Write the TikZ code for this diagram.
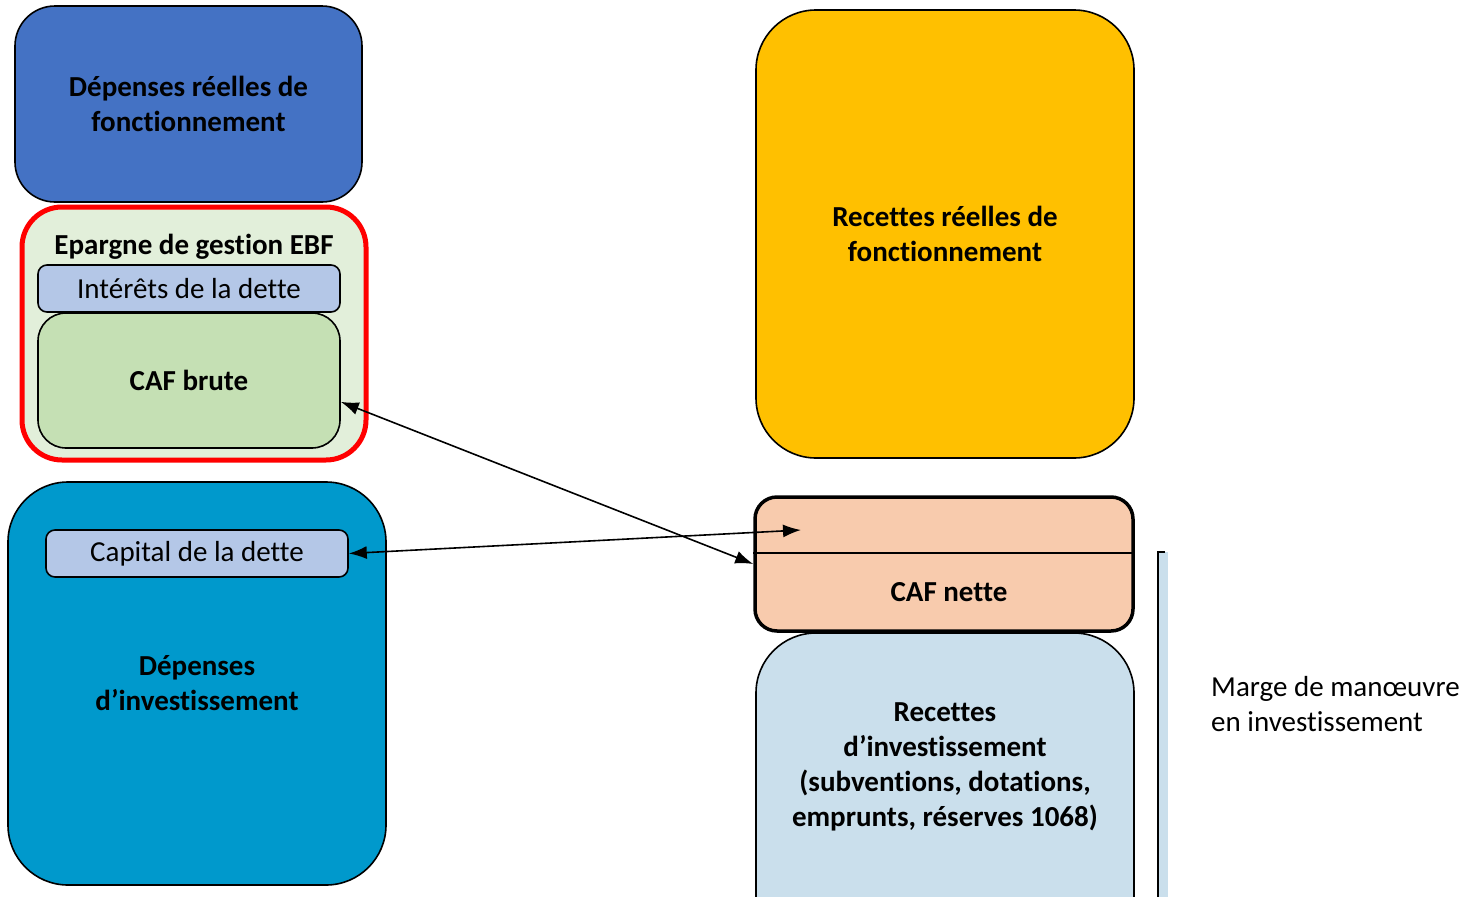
\documentclass[tikz,border=0pt]{standalone}
\usepackage{fontspec}
\setmainfont[Ligatures={NoCommon}]{Carlito}
\usetikzlibrary{positioning,arrows.meta}
\definecolor{bleuDRF}{RGB}{68,114,196}
\definecolor{rougeEBF}{RGB}{255,0,0}
\definecolor{vertEBF}{RGB}{226,239,218}
\definecolor{bleuDette}{RGB}{180,199,231}
\definecolor{vertCAF}{RGB}{197,224,180}
\definecolor{bleuInv}{RGB}{0,153,204}
\definecolor{jauneRRF}{RGB}{255,192,0}
\definecolor{saumonCAF}{RGB}{248,203,173}
\definecolor{bleuRInv}{RGB}{202,223,236}
\tikzset{
bloc/.style={draw=black, line width=1.6pt, align=center, inner sep=0pt,
  font=\fontsize{29}{35}\selectfont\bfseries},
dette/.style={bloc, fill=bleuDette, rounded corners=9pt, minimum width=302pt,
  minimum height=47pt, font=\fontsize{29}{35}\selectfont},
fleche/.style={{Latex[length=18pt,width=13pt]}-{Latex[length=18pt,width=13pt]}, line width=1.6pt}
}
\begin{document}
\begin{tikzpicture}[x=1pt,y=1pt,yscale=-1]
\useasboundingbox (0,0) rectangle (1481,897);
% fonctionnement (gauche)
\node[bloc, fill=bleuDRF, rounded corners=40pt, minimum width=347pt, minimum height=196pt]
  (drf) at (188.5,104) {Dépenses réelles de\\fonctionnement};
\node[bloc, fill=vertEBF, draw=rougeEBF, line width=5pt, rounded corners=40pt,
  minimum width=344pt, minimum height=253pt] (ebf) at (194,333.5) {};
\node[bloc, draw=none] (ebftitre) at (194,247) {Epargne de gestion EBF};
\node[dette] (interets) at (189,288.5) {Intérêts de la dette};
\node[bloc, fill=vertCAF, rounded corners=28pt, minimum width=302pt, minimum height=135pt]
  (cafbrute) at (189,380.5) {CAF brute};
% investissement (gauche)
\node[bloc, fill=bleuInv, rounded corners=60pt, minimum width=378pt, minimum height=403pt]
  (dinv) at (197,683.5) {Dépenses\\d’investissement};
\node[dette] (capital) at (197,553.5) {Capital de la dette};
% fonctionnement (droite)
\node[bloc, fill=jauneRRF, rounded corners=60pt, minimum width=378pt, minimum height=448pt]
  (rrf) at (945,234) {Recettes réelles de\\fonctionnement};
% investissement (droite)
\node[bloc, fill=bleuRInv, rounded corners=60pt, minimum width=378pt, minimum height=330pt]
  (rinv) at (945,798) {};
\node[bloc, draw=none] (rinvtexte) at (945,766.5)
  {Recettes\\d’investissement\\(subventions, dotations,\\emprunts, réserves 1068)};
\node[bloc, fill=saumonCAF, line width=3.5pt, rounded corners=22pt, minimum width=378pt,
  minimum height=134pt] (cafnette) at (944,564) {};
\draw[line width=1.4pt] (cafnette.west |- 0,553) -- (cafnette.east |- 0,553);
\node[bloc, draw=none] (cafnettetexte) at (949,592) {CAF nette};
% marge
\node[fill=bleuRInv, minimum width=10pt, minimum height=350pt, inner sep=0pt, anchor=north west]
  (barre) at (1158,552) {};
\draw[line width=1.6pt] ([xshift=7pt]barre.north west) -- (barre.north west) -- (barre.south west);
\node[anchor=west, align=left, inner sep=0pt, font=\fontsize{29}{35}\selectfont]
  (marge) at (1211,704) {Marge de manœuvre\\en investissement};
% fleches
\coordinate (cible) at (801,530);
\draw[fleche] (cafbrute.-8.5) -- (cafnette.west);
\draw[fleche] (capital.east) -- (cible);
\end{tikzpicture}
\end{document}
